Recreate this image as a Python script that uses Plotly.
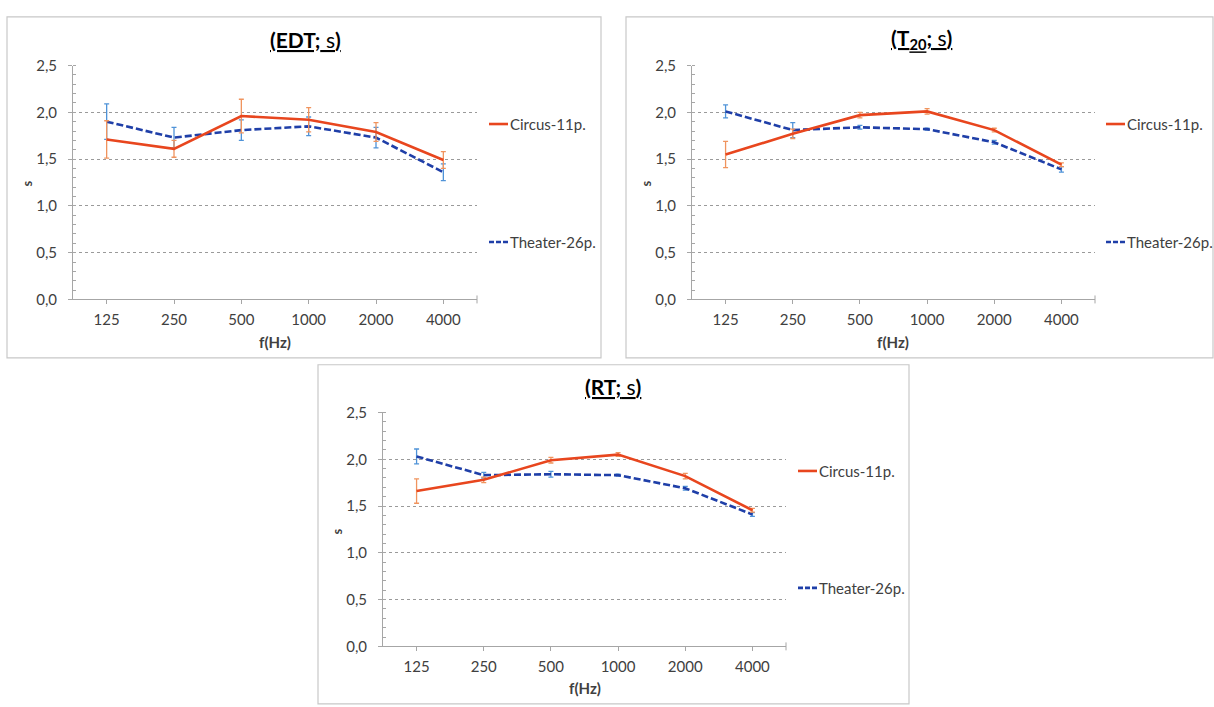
import plotly.graph_objects as go

W, H = 1214, 707

# ---------------- data ----------------
freqs = ["125", "250", "500", "1000", "2000", "4000"]

edt_circus = [1.71, 1.61, 1.96, 1.92, 1.79, 1.49]
edt_circus_err = [0.20, 0.09, 0.18, 0.13, 0.10, 0.09]
edt_theater = [1.90, 1.73, 1.81, 1.85, 1.73, 1.36]
edt_theater_err = [0.19, 0.11, 0.11, 0.10, 0.11, 0.09]

t20_circus = [1.55, 1.77, 1.97, 2.01, 1.81, 1.44]
t20_circus_err = [0.14, 0.05, 0.03, 0.03, 0.02, 0.02]
t20_theater = [2.01, 1.81, 1.84, 1.82, 1.68, 1.39]
t20_theater_err = [0.07, 0.08, 0.02, 0.01, 0.02, 0.03]

rt_circus = [1.66, 1.78, 1.99, 2.05, 1.82, 1.455]
rt_circus_err = [0.13, 0.03, 0.03, 0.02, 0.03, 0.02]
rt_theater = [2.03, 1.83, 1.84, 1.83, 1.69, 1.41]
rt_theater_err = [0.08, 0.03, 0.03, 0.01, 0.02, 0.02]

series_names = ["Circus-11p.", "Theater-26p."]
titles = ["<u><b>(EDT;</b> s<b>)</b></u>",
          "<u><b>(T<sub>20</sub>;</b> s<b>)</b></u>",
          "<u><b>(RT;</b> s<b>)</b></u>"]
y_ticks = [0, 0.5, 1.0, 1.5, 2.0, 2.5]

# ---------------- style ----------------
C_RED = "#e8461e"
C_RED_ERR = "#f0945e"
C_BLUE = "#1f3fa8"
C_BLUE_ERR = "#4f93d8"
FONT = "Lato"
TXT = "#404040"
AX = "#a6a6a6"


def px(x):
    return x / W


def py(y):
    return 1 - y / H


# panel geometry (pixels)
panels = [
    dict(frame=(7, 7, 601, 357), ax=(73, 477), ay=(57, 297), title=(305, 30),
         leg=(489, 117, 238), ytitle=(27, 178), xtitle=(275, 341)),
    dict(frame=(626, 7, 1213, 357), ax=(692, 1095), ay=(57, 297), title=(921, 30),
         leg=(1106, 117, 238), ytitle=(646, 178), xtitle=(893, 341)),
    dict(frame=(318, 364, 909, 712), ax=(383, 786), ay=(413, 653), title=(613, 386),
         leg=(798, 473, 593), ytitle=(337, 535), xtitle=(585, 696)),
]

data = [
    (edt_circus, edt_circus_err, edt_theater, edt_theater_err),
    (t20_circus, t20_circus_err, t20_theater, t20_theater_err),
    (rt_circus, rt_circus_err, rt_theater, rt_theater_err),
]

fig = go.Figure()
shapes = []
annotations = []

for i, (p, d) in enumerate(zip(panels, data)):
    xa = "x" if i == 0 else f"x{i+1}"
    ya = "y" if i == 0 else f"y{i+1}"
    circ, circ_e, thea, thea_e = d
    fig.add_trace(go.Scatter(
        x=freqs, y=thea, name=series_names[1], mode="lines",
        line=dict(color=C_BLUE, width=2.6, dash="7px,3px"),
        error_y=dict(type="data", array=thea_e, visible=True, color=C_BLUE_ERR,
                     thickness=1.3, width=2.5),
        xaxis=xa, yaxis=ya, showlegend=False))
    fig.add_trace(go.Scatter(
        x=freqs, y=circ, name=series_names[0], mode="lines",
        line=dict(color=C_RED, width=2.6),
        error_y=dict(type="data", array=circ_e, visible=True, color=C_RED_ERR,
                     thickness=1.3, width=2.5),
        xaxis=xa, yaxis=ya, showlegend=False))

    xkey = "xaxis" if i == 0 else f"xaxis{i+1}"
    ykey = "yaxis" if i == 0 else f"yaxis{i+1}"
    fig.update_layout(**{
        xkey: dict(domain=[px(p["ax"][0]), px(p["ax"][1])], anchor=ya,
                   type="category", range=[-0.5, 5.5],
                   showgrid=False, zeroline=False, showline=True,
                   linecolor=AX, linewidth=1,
                   ticks="outside", ticklen=4, tickcolor=AX,
                   tickfont=dict(family=FONT, size=15, color=TXT),
                   ticklabelstandoff=3, fixedrange=True),
        ykey: dict(domain=[py(p["ay"][1]), py(p["ay"][0])], anchor=xa,
                   range=[0, 2.5], tickvals=y_ticks, tickformat=".1f",
                   showgrid=True, gridcolor="#9a9a9a", griddash="dot", gridwidth=1,
                   zeroline=False, showline=True, linecolor=AX, linewidth=1,
                   ticks="outside", ticklen=4, tickcolor=AX,
                   minor=dict(dtick=0.1, ticks="inside", ticklen=3,
                              tickcolor=AX, showgrid=False),
                   tickfont=dict(family=FONT, size=15, color=TXT),
                   ticklabelstandoff=8, fixedrange=True),
    })

    fx0, fy0, fx1, fy1 = p["frame"]
    shapes.append(dict(type="rect", xref="paper", yref="paper",
                       x0=px(fx0), x1=px(fx1), y0=py(fy1), y1=py(fy0),
                       line=dict(color="#c8c8c8", width=1.2), layer="below"))
    shapes.append(dict(type="line", xref=f"{xa} domain", yref=f"{ya} domain",
                       x0=1, x1=1, y0=-0.017, y1=0.017,
                       line=dict(color=AX, width=1)))
    annotations.append(dict(text=titles[i], xref="paper", yref="paper",
                            x=px(p["title"][0]), y=py(p["title"][1]),
                            xanchor="center", yanchor="middle", showarrow=False,
                            font=dict(family=FONT, size=21, color="#000000")))
    annotations.append(dict(text="<b>f(Hz)</b>", xref="paper", yref="paper",
                            x=px(p["xtitle"][0]), y=py(p["xtitle"][1]),
                            xanchor="center", yanchor="middle", showarrow=False,
                            font=dict(family=FONT, size=15, color=TXT)))
    annotations.append(dict(text="<b>s</b>", xref="paper", yref="paper",
                            x=px(p["ytitle"][0]), y=py(p["ytitle"][1]),
                            xanchor="center", yanchor="middle", showarrow=False,
                            textangle=-90,
                            font=dict(family=FONT, size=13, color=TXT)))
    lx, ly1, ly2 = p["leg"]
    shapes.append(dict(type="line", xref="paper", yref="paper",
                       x0=px(lx), x1=px(lx + 19), y0=py(ly1), y1=py(ly1),
                       line=dict(color=C_RED, width=2.6)))
    shapes.append(dict(type="line", xref="paper", yref="paper",
                       x0=px(lx), x1=px(lx + 19), y0=py(ly2), y1=py(ly2),
                       line=dict(color=C_BLUE, width=2.6, dash="5px,2px")))
    annotations.append(dict(text=series_names[0], xref="paper", yref="paper",
                            x=px(lx + 19), y=py(ly1), xanchor="left", yanchor="middle",
                            showarrow=False,
                            font=dict(family=FONT, size=15, color=TXT)))
    annotations.append(dict(text=series_names[1], xref="paper", yref="paper",
                            x=px(lx + 19), y=py(ly2), xanchor="left", yanchor="middle",
                            showarrow=False,
                            font=dict(family=FONT, size=15, color=TXT)))

fig.update_layout(
    width=W, height=H,
    margin=dict(l=0, r=0, t=0, b=0),
    paper_bgcolor="white", plot_bgcolor="rgba(0,0,0,0)",
    separators=",.",
    showlegend=False,
    shapes=shapes,
    annotations=annotations,
    font=dict(family=FONT, color=TXT),
)

fig.write_html(
    "out.html",
    post_script="document.documentElement.style.margin='0';"
                "document.body.style.margin='0';"
                "document.body.style.overflow='hidden';",
)
